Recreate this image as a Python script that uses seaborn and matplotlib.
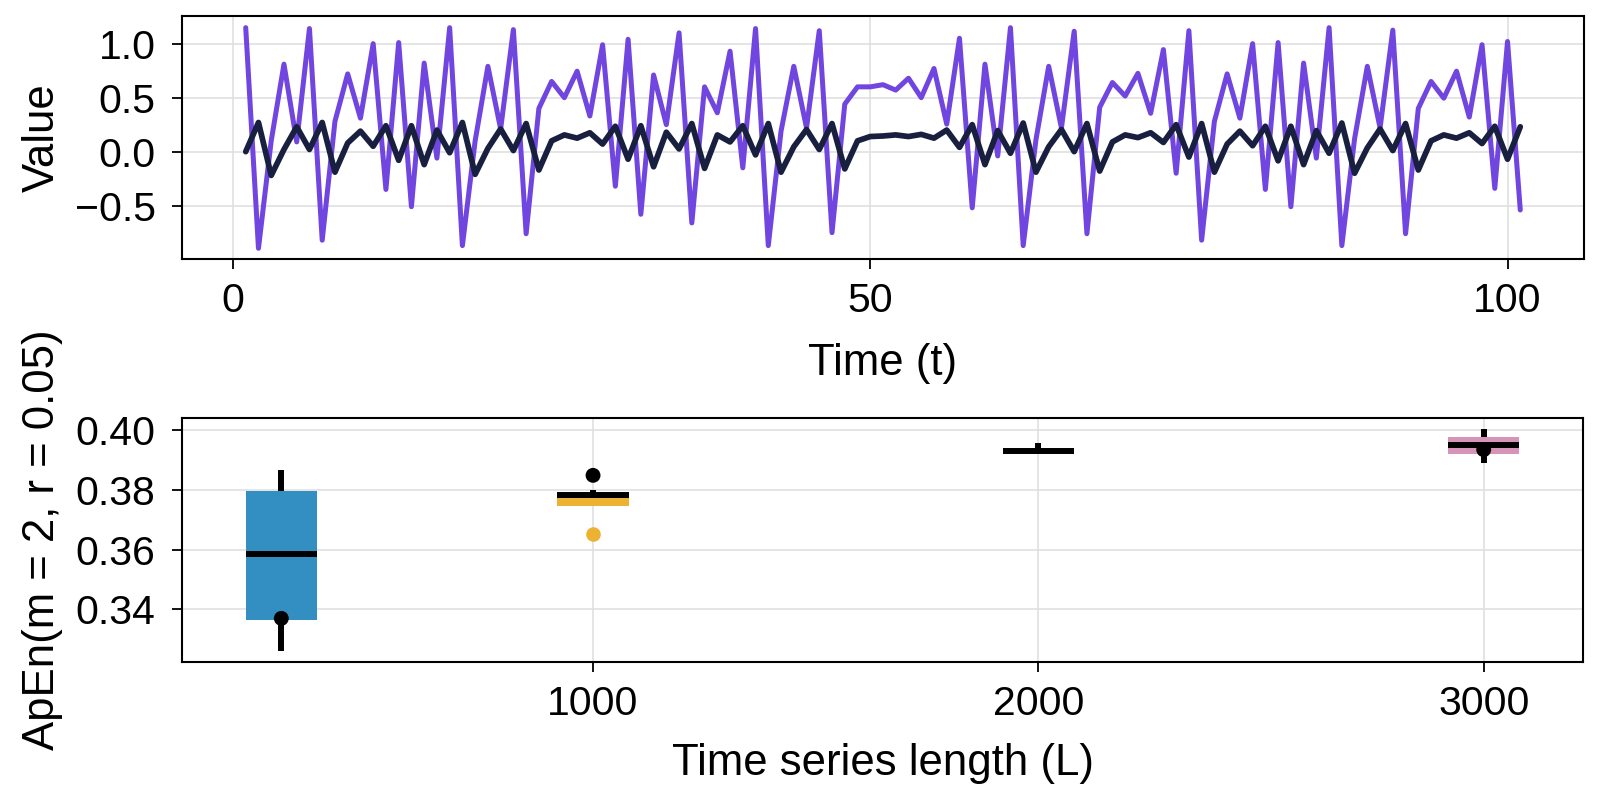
import numpy as np
import pandas as pd
import matplotlib
matplotlib.use("Agg")
import matplotlib.pyplot as plt
import seaborn as sns

# ---------------- data ----------------
time_t = list(range(1, 102))
signal = [1.148, -0.895, 0.10, 0.81, 0.09, 1.14, -0.82, 0.28, 0.72, 0.31,
          1.00, -0.35, 1.01, -0.51, 0.82, -0.06, 1.148, -0.87, 0.10, 0.79,
          0.21, 1.13, -0.76, 0.40, 0.65, 0.50, 0.745, 0.33, 0.99, -0.32,
          1.04, -0.58, 0.71, 0.25, 1.10, -0.66, 0.60, 0.36, 0.93, -0.15,
          1.14, -0.87, 0.19, 0.79, 0.22, 1.12, -0.75, 0.44, 0.60, 0.60,
          0.62, 0.57, 0.68, 0.50, 0.77, 0.255, 1.05, -0.52, 0.81, -0.04,
          1.148, -0.87, 0.11, 0.79, 0.22, 1.115, -0.76, 0.41, 0.64, 0.515,
          0.725, 0.355, 0.945, -0.20, 1.12, -0.82, 0.28, 0.72, 0.31, 1.00,
          -0.35, 1.01, -0.51, 0.82, -0.06, 1.148, -0.87, 0.12, 0.79, 0.22,
          1.125, -0.76, 0.40, 0.65, 0.495, 0.745, 0.32, 0.99, -0.34, 1.02,
          -0.54]
companion = [0.0, 0.27, -0.22, 0.02, 0.23, 0.02, 0.27, -0.19, 0.08, 0.19,
             0.05, 0.24, -0.08, 0.24, -0.12, 0.20, -0.01, 0.27, -0.21, 0.03,
             0.21, 0.01, 0.26, -0.17, 0.10, 0.155, 0.125, 0.175, 0.07, 0.235,
             -0.07, 0.24, -0.14, 0.18, 0.025, 0.26, -0.155, 0.155, 0.09, 0.24,
             -0.03, 0.26, -0.19, 0.045, 0.205, 0.02, 0.26, -0.16, 0.10, 0.14,
             0.145, 0.155, 0.14, 0.16, 0.125, 0.20, 0.04, 0.25, -0.12, 0.195,
             -0.015, 0.265, -0.19, 0.045, 0.205, 0.0, 0.26, -0.18, 0.09, 0.155,
             0.13, 0.175, 0.085, 0.25, -0.05, 0.26, -0.19, 0.07, 0.19, 0.055,
             0.235, -0.085, 0.235, -0.12, 0.195, -0.015, 0.265, -0.20, 0.035, 0.21,
             0.01, 0.26, -0.17, 0.10, 0.155, 0.125, 0.175, 0.075, 0.235, -0.07,
             0.23]

lengths = [300, 1000, 2000, 3000]
apen_L300 = [0.3261, 0.3300, 0.3366, 0.3480, 0.3586, 0.3700, 0.3797, 0.3840, 0.3868]
apen_L1000 = [0.3652, 0.3748, 0.3748, 0.3760, 0.3782, 0.3785, 0.3787, 0.3795, 0.3801]
apen_L2000 = [0.3924, 0.3924, 0.3924, 0.3928, 0.3931, 0.3934, 0.3938, 0.3945, 0.3958]
apen_L3000 = [0.3890, 0.3905, 0.3922, 0.3935, 0.3949, 0.3960, 0.3976, 0.3990, 0.4003]
apen_single = [0.3370, 0.3849, np.nan, 0.3935]

box_colors = ["#338EC1", "#EBB233", "#33B190", "#D694B9"]

# ---------------- style ----------------
sns.set_style("ticks")
plt.rcParams["font.family"] = ["Liberation Sans", "DejaVu Sans"]
plt.rcParams["axes.linewidth"] = 1.5
plt.rcParams["text.color"] = "black"
plt.rcParams["axes.labelcolor"] = "black"
FS_TICK = 29.5
FS_LABEL = 31.5
GRID = "#e0e0e0"

fig = plt.figure(figsize=(16, 8), dpi=100)
ax1 = fig.add_axes([182 / 1600, 1 - 259 / 800, 1402 / 1600, 243 / 800])
ax2 = fig.add_axes([182 / 1600, 1 - 662 / 800, 1401 / 1600, 244 / 800])

# ---------------- top panel ----------------
ts = pd.DataFrame({"t": time_t, "signal": signal, "companion": companion})
sns.lineplot(data=ts, x="t", y="signal", ax=ax1, color="#7045E0", linewidth=3.6)
sns.lineplot(data=ts, x="t", y="companion", ax=ax1, color="#19203F", linewidth=4.1)
ax1.set_xlim(-4, 106)
ax1.set_ylim(-0.994, 1.256)
ax1.set_xticks([0, 50, 100])
ax1.set_yticks([-0.5, 0.0, 0.5, 1.0])
ax1.set_xlabel("Time (t)", fontsize=FS_LABEL)
ax1.set_ylabel("Value", fontsize=FS_LABEL)

# ---------------- bottom panel ----------------
box_df = pd.DataFrame({
    "L": np.repeat(lengths, 9),
    "ApEn": np.concatenate([apen_L300, apen_L1000, apen_L2000, apen_L3000]),
})
pal = dict(zip(lengths, box_colors))
sns.boxplot(data=box_df, x="L", y="ApEn", hue="L", palette=pal, native_scale=True,
            width=160 / 700, dodge=False, legend=False, ax=ax2, saturation=1,
            linecolor="black", linewidth=4.3, showcaps=False,
            boxprops=dict(edgecolor="none", linewidth=0),
            medianprops=dict(color="black", linewidth=4.3),
            whiskerprops=dict(color="black", linewidth=4.3),
            flierprops=dict(marker="o", markersize=10.5, markeredgecolor="none"))
for cont, col in zip(ax2.containers, box_colors):
    try:
        for fl in cont.fliers:
            fl.set_markerfacecolor(col)
            fl.set_markeredgecolor("none")
    except Exception:
        pass
sns.scatterplot(x=lengths, y=apen_single, ax=ax2, color="black", s=115,
                edgecolor="none", zorder=6)
ax2.set_xlim(77, 3223)
ax2.set_ylim(0.3224, 0.4041)
ax2.set_xticks([1000, 2000, 3000])
ax2.set_yticks([0.34, 0.36, 0.38, 0.40])
ax2.set_xlabel("Time series length (L)", fontsize=FS_LABEL)
ax2.set_ylabel("ApEn(m = 2, r = 0.05)", fontsize=FS_LABEL)

for ax in (ax1, ax2):
    ax.grid(True, color=GRID, linewidth=1.2, alpha=1)
    ax.set_axisbelow(True)
    ax.tick_params(direction="out", length=7, width=1.3, labelsize=FS_TICK,
                   colors="black")
    ax.tick_params(axis="x", pad=9.5)
    ax.tick_params(axis="y", pad=12)
    for s in ax.spines.values():
        s.set_visible(True)
        s.set_linewidth(1.5)
        s.set_color("black")
    ax.yaxis.set_label_coords(-0.085, 0.5)

ax1.xaxis.set_label_coords(0.5, -0.345)
ax2.xaxis.set_label_coords(0.5, -0.33)

fig.savefig("out.png", dpi=100)
